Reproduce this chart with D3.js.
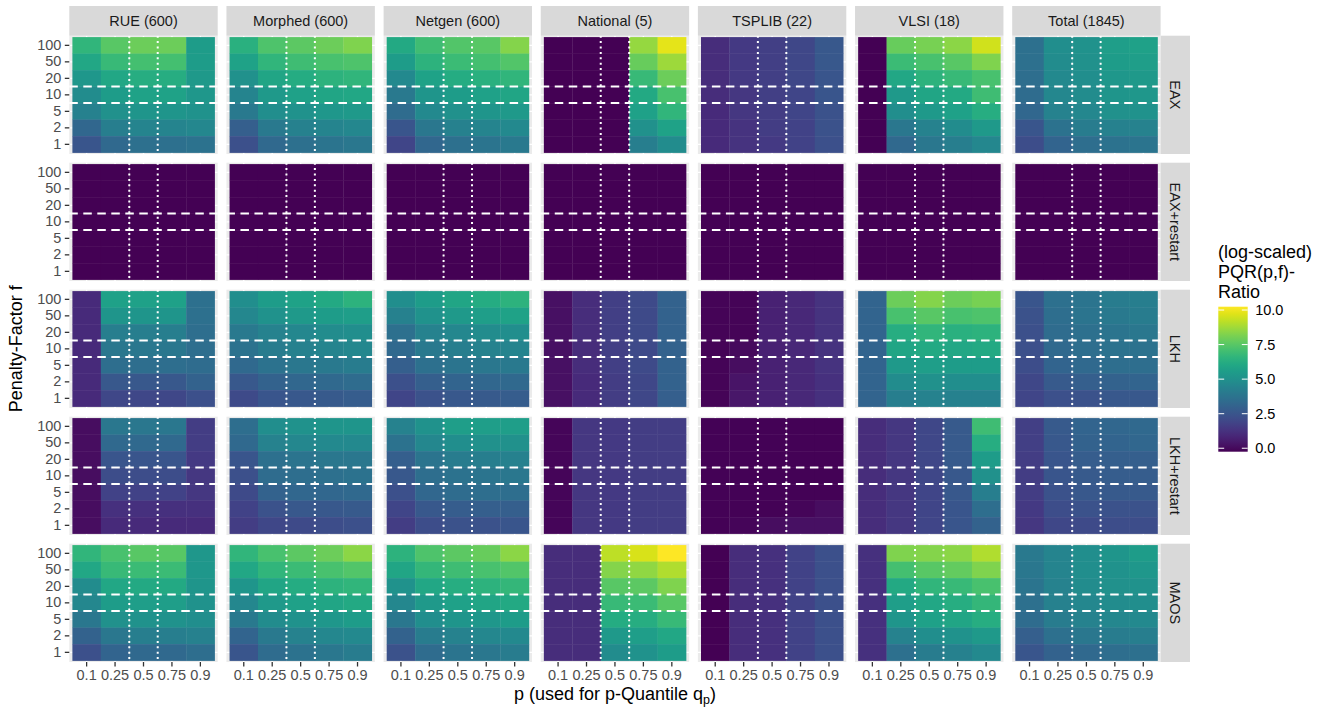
<!DOCTYPE html>
<html><head><meta charset="utf-8">
<script src="https://cdn.jsdelivr.net/npm/d3@7"></script>
<style>
html,body{margin:0;padding:0;background:#fff;}
text{font-family:"Liberation Sans",Arial,Helvetica,sans-serif;}
</style></head>
<body><svg id="chart" width="1325" height="711"></svg>
<script>
// ---------- data ----------
const datasets = ["RUE (600)","Morphed (600)","Netgen (600)","National (5)","TSPLIB (22)","VLSI (18)","Total (1845)"];
const algorithms = ["EAX","EAX+restart","LKH","LKH+restart","MAOS"];
const pLabels = ["0.1","0.25","0.5","0.75","0.9"];
const fLabels = ["100","50","20","10","5","2","1"];   // top to bottom
const legendTicks = [0, 2.5, 5, 7.5, 10];
const legendLimits = [-0.25, 10.24];

// each dataset: rows f = 100,50,20,10,5,2,1 ; columns p = 0.1,0.25,0.5,0.75,0.9
const valuesEAX = [
 [[6.6,7.5,7.9,7.9,5.5],[6.0,6.8,7.1,7.1,5.5],[5.3,6.0,6.3,6.3,5.4],[4.8,5.5,5.8,5.8,5.3],[4.3,5.0,5.2,5.2,5.1],[3.2,4.2,4.5,4.5,4.6],[2.5,3.3,3.6,3.6,3.7]],
 [[6.4,7.3,7.6,7.9,8.2],[5.8,6.6,7.0,7.2,7.3],[5.0,5.9,6.2,6.5,6.6],[4.5,5.4,5.7,5.9,6.0],[4.0,4.9,5.1,5.3,5.4],[2.9,4.0,4.3,4.5,4.6],[2.3,3.3,3.6,3.8,3.9]],
 [[6.1,7.0,7.4,7.5,8.3],[5.5,6.5,6.9,7.1,7.4],[4.7,5.8,6.2,6.4,6.6],[4.0,5.2,5.5,5.7,5.9],[3.4,4.7,5.0,5.2,5.4],[2.5,3.9,4.3,4.5,4.7],[1.9,3.2,3.6,3.8,4.0]],
 [[-0.25,-0.25,-0.25,8.6,9.8],[-0.25,-0.25,-0.25,7.8,8.7],[-0.25,-0.25,-0.25,6.8,7.9],[-0.25,-0.25,-0.25,6.1,7.2],[-0.25,-0.25,-0.25,5.7,6.6],[-0.25,-0.25,-0.25,5.0,5.8],[-0.25,-0.25,-0.25,4.2,4.8]],
 [[1.1,1.5,1.7,2.0,2.6],[1.1,1.5,1.7,2.0,2.6],[1.1,1.5,1.7,2.0,2.5],[1.1,1.4,1.7,1.9,2.5],[1.0,1.4,1.6,1.9,2.4],[1.0,1.3,1.6,1.8,2.4],[1.0,1.3,1.5,1.8,2.3]],
 [[-0.25,7.8,8.1,8.4,9.5],[-0.25,6.9,7.2,7.5,8.2],[-0.25,6.0,6.5,6.8,7.2],[-0.25,5.4,5.9,6.1,7.0],[-0.25,4.9,5.4,5.7,6.3],[-0.25,3.9,4.4,4.8,5.4],[-0.25,3.3,3.9,4.2,4.6]],
 [[3.6,4.9,5.1,5.6,5.7],[3.6,4.8,5.0,5.5,5.6],[3.5,4.7,4.9,5.3,5.4],[3.4,4.6,4.8,5.2,5.3],[3.2,4.4,4.6,5.0,5.1],[2.5,3.7,4.1,4.3,4.4],[2.2,3.1,3.5,3.7,3.8]]
];
const valuesEAXrestart = [
 [[-0.25,-0.25,-0.25,-0.25,-0.25],[-0.25,-0.25,-0.25,-0.25,-0.25],[-0.25,-0.25,-0.25,-0.25,-0.25],[-0.25,-0.25,-0.25,-0.25,-0.25],[-0.25,-0.25,-0.25,-0.25,-0.25],[-0.25,-0.25,-0.25,-0.25,-0.25],[-0.25,-0.25,-0.25,-0.25,-0.25]],
 [[-0.25,-0.25,-0.25,-0.25,-0.25],[-0.25,-0.25,-0.25,-0.25,-0.25],[-0.25,-0.25,-0.25,-0.25,-0.25],[-0.25,-0.25,-0.25,-0.25,-0.25],[-0.25,-0.25,-0.25,-0.25,-0.25],[-0.25,-0.25,-0.25,-0.25,-0.25],[-0.25,-0.25,-0.25,-0.25,-0.25]],
 [[-0.25,-0.25,-0.25,-0.25,-0.25],[-0.25,-0.25,-0.25,-0.25,-0.25],[-0.25,-0.25,-0.25,-0.25,-0.25],[-0.25,-0.25,-0.25,-0.25,-0.25],[-0.25,-0.25,-0.25,-0.25,-0.25],[-0.25,-0.25,-0.25,-0.25,-0.25],[-0.25,-0.25,-0.25,-0.25,-0.25]],
 [[-0.25,-0.25,-0.25,-0.25,-0.25],[-0.25,-0.25,-0.25,-0.25,-0.25],[-0.25,-0.25,-0.25,-0.25,-0.25],[-0.25,-0.25,-0.25,-0.25,-0.25],[-0.25,-0.25,-0.25,-0.25,-0.25],[-0.25,-0.25,-0.25,-0.25,-0.25],[-0.25,-0.25,-0.25,-0.25,-0.25]],
 [[-0.25,-0.25,-0.25,-0.25,-0.25],[-0.25,-0.25,-0.25,-0.25,-0.25],[-0.25,-0.25,-0.25,-0.25,-0.25],[-0.25,-0.25,-0.25,-0.25,-0.25],[-0.25,-0.25,-0.25,-0.25,-0.25],[-0.25,-0.25,-0.25,-0.25,-0.25],[-0.25,-0.25,-0.25,-0.25,-0.25]],
 [[-0.25,-0.25,-0.25,-0.25,-0.25],[-0.25,-0.25,-0.25,-0.25,-0.25],[-0.25,-0.25,-0.25,-0.25,-0.25],[-0.25,-0.25,-0.25,-0.25,-0.25],[-0.25,-0.25,-0.25,-0.25,-0.25],[-0.25,-0.25,-0.25,-0.25,-0.25],[-0.25,-0.25,-0.25,-0.25,-0.25]],
 [[-0.25,-0.25,-0.25,-0.25,-0.25],[-0.25,-0.25,-0.25,-0.25,-0.25],[-0.25,-0.25,-0.25,-0.25,-0.25],[-0.25,-0.25,-0.25,-0.25,-0.25],[-0.25,-0.25,-0.25,-0.25,-0.25],[-0.25,-0.25,-0.25,-0.25,-0.25],[-0.25,-0.25,-0.25,-0.25,-0.25]]
];
const valuesLKH = [
 [[1.0,5.7,5.7,5.7,3.6],[1.0,5.2,5.2,5.2,3.6],[1.0,4.2,4.2,4.2,3.5],[1.0,3.9,3.9,3.9,3.5],[1.0,3.5,3.5,3.5,3.4],[1.0,2.6,2.6,2.6,3.0],[1.0,2.0,2.0,2.0,2.3]],
 [[4.9,5.5,5.8,6.1,6.5],[4.6,5.1,5.4,5.5,5.6],[4.0,4.4,4.6,4.8,4.9],[3.7,4.1,4.3,4.5,4.6],[3.3,3.7,3.9,4.0,4.1],[2.6,3.0,3.2,3.3,3.4],[2.1,2.5,2.6,2.7,2.8]],
 [[4.9,5.5,5.9,6.2,6.5],[4.3,5.1,5.4,5.6,5.8],[3.6,4.4,4.6,4.8,4.9],[3.3,4.0,4.2,4.4,4.5],[2.9,3.6,3.8,3.9,4.0],[2.3,2.9,3.1,3.2,3.3],[1.9,2.4,2.6,2.7,2.8]],
 [[0.2,1.1,1.7,2.1,3.0],[0.2,1.1,1.7,2.1,3.0],[0.2,1.1,1.7,2.1,3.0],[0.2,1.1,1.7,2.1,3.0],[0.2,1.1,1.7,2.1,3.0],[0.2,1.0,1.6,2.0,3.0],[0.2,1.0,1.6,2.0,2.9]],
 [[-0.15,-0.15,0.7,0.9,1.3],[-0.15,-0.15,0.7,0.9,1.3],[-0.15,-0.15,0.7,0.9,1.3],[-0.15,0.0,0.7,0.9,1.3],[-0.15,0.1,0.7,0.9,1.3],[-0.15,0.3,0.7,0.9,1.2],[-0.15,0.4,0.7,0.9,1.2]],
 [[3.1,7.9,8.3,7.9,8.1],[3.1,7.2,7.5,7.2,7.3],[3.1,6.3,6.6,6.4,6.5],[3.1,5.9,6.1,6.0,6.1],[3.1,5.4,5.6,5.5,5.5],[3.1,4.8,5.0,4.9,4.9],[3.1,4.2,4.4,4.3,4.3]],
 [[2.5,3.6,3.8,4.1,4.2],[2.4,3.5,3.8,4.0,4.1],[2.3,3.4,3.6,3.8,3.9],[2.3,3.3,3.5,3.7,3.7],[2.2,3.1,3.3,3.5,3.5],[2.0,2.7,2.9,3.0,3.1],[1.9,2.3,2.4,2.6,2.6]]
];
const valuesLKHrestart = [
 [[0.1,3.9,3.9,3.9,1.6],[0.1,3.3,3.3,3.3,1.6],[0.1,2.5,2.5,2.5,1.5],[0.1,2.2,2.2,2.2,1.4],[0.1,1.8,1.8,1.8,1.4],[0.1,1.2,1.2,1.2,1.2],[0.1,1.0,1.0,1.0,1.0]],
 [[3.5,4.9,5.1,5.2,5.2],[3.3,4.4,4.6,4.7,4.7],[2.5,3.6,3.8,3.9,3.9],[2.3,3.4,3.5,3.6,3.7],[2.1,3.0,3.2,3.2,3.3],[1.8,2.4,2.6,2.6,2.7],[1.6,2.0,2.1,2.2,2.3]],
 [[4.4,5.1,5.6,5.6,5.6],[3.7,4.6,4.9,5.0,5.0],[2.9,3.8,4.1,4.2,4.3],[2.6,3.5,3.7,3.8,3.9],[2.3,3.2,3.4,3.5,3.5],[1.9,2.6,2.8,2.9,2.9],[1.6,2.2,2.4,2.4,2.5]],
 [[-0.1,1.4,1.5,1.6,1.6],[-0.1,1.4,1.5,1.6,1.6],[-0.1,1.4,1.5,1.6,1.6],[-0.1,1.4,1.5,1.6,1.6],[-0.1,1.4,1.5,1.6,1.6],[-0.1,1.4,1.5,1.6,1.6],[-0.1,1.4,1.5,1.6,1.6]],
 [[-0.2,-0.2,-0.2,-0.2,-0.2],[-0.2,-0.2,-0.2,-0.2,-0.2],[-0.2,-0.2,-0.2,-0.2,-0.2],[-0.2,-0.2,-0.2,-0.2,-0.2],[-0.2,-0.2,-0.2,-0.2,-0.2],[-0.2,-0.2,-0.2,-0.1,0.1],[-0.2,-0.1,0.1,0.2,0.2]],
 [[1.1,1.4,2.0,2.7,7.0],[1.1,1.4,2.0,2.7,6.3],[1.1,1.4,2.0,2.7,5.5],[1.1,1.4,2.0,2.6,5.0],[1.1,1.4,1.9,2.6,4.2],[1.1,1.4,1.9,2.5,3.5],[1.1,1.4,1.9,2.5,3.0]],
 [[1.7,2.7,3.1,3.2,3.3],[1.7,2.6,3.0,3.1,3.2],[1.6,2.5,2.8,2.9,2.9],[1.6,2.5,2.7,2.8,2.8],[1.6,2.4,2.6,2.7,2.7],[1.5,2.2,2.4,2.4,2.4],[1.4,2.0,2.1,2.2,2.2]]
];
const valuesMAOS = [
 [[6.6,7.2,7.5,7.5,5.3],[6.0,6.8,6.9,6.9,5.3],[4.8,6.0,6.1,6.1,5.2],[4.6,5.5,5.6,5.6,5.1],[3.9,5.0,5.1,5.1,4.9],[3.0,3.9,4.2,4.2,4.3],[2.3,3.1,3.3,3.3,3.5]],
 [[6.6,7.2,7.6,7.9,8.4],[6.0,6.6,6.9,7.2,7.4],[5.2,5.9,6.2,6.5,6.6],[4.6,5.4,5.7,5.9,6.1],[4.0,4.8,5.1,5.3,5.5],[3.1,4.0,4.4,4.6,4.7],[2.5,3.4,3.7,3.9,4.1]],
 [[6.5,7.3,7.6,7.8,8.4],[5.9,6.7,7.0,7.2,7.4],[5.1,6.0,6.3,6.5,6.7],[4.6,5.4,5.7,5.9,6.1],[3.9,4.9,5.2,5.3,5.5],[3.0,4.1,4.4,4.6,4.7],[2.4,3.4,3.8,3.9,4.1]],
 [[1.1,1.1,9.2,9.6,10.24],[1.1,1.1,8.3,8.5,9.0],[1.1,1.1,7.5,7.6,8.2],[1.1,1.1,6.8,6.9,7.5],[1.1,1.1,6.2,6.3,6.8],[1.1,1.1,5.4,5.6,6.0],[1.1,1.1,4.8,5.1,5.5]],
 [[-0.25,1.1,1.2,1.8,2.3],[-0.25,1.1,1.2,1.8,2.3],[-0.25,1.1,1.2,1.8,2.3],[-0.25,1.1,1.2,1.8,2.3],[-0.25,1.1,1.2,1.8,2.3],[-0.25,1.1,1.2,1.8,2.3],[-0.25,1.1,1.2,1.8,2.3]],
 [[1.2,8.2,8.3,8.4,9.0],[1.2,7.1,7.5,7.7,8.2],[1.2,6.1,6.6,6.8,7.2],[1.2,5.6,6.0,6.3,6.7],[1.2,5.2,5.7,5.9,6.3],[1.2,4.4,4.9,5.1,5.4],[1.2,3.6,4.1,4.3,4.7]],
 [[4.0,4.5,4.9,5.2,5.5],[3.9,4.5,4.9,5.1,5.3],[3.8,4.4,4.8,5.0,5.1],[3.6,4.3,4.6,4.8,4.9],[3.4,4.1,4.4,4.6,4.7],[2.9,3.6,3.9,4.1,4.2],[2.5,3.0,3.3,3.5,3.6]]
];
const valuesByAlgorithm = [valuesEAX, valuesEAXrestart, valuesLKH, valuesLKHrestart, valuesMAOS];

// ---------- layout ----------
const svg = d3.select("#chart");
const panelX0 = 69.3, stepX = 157.15, panelW = 148.4;
const panelY0 = 35.7, stepY = 127, panelH = 118.3;
const insetX = 3.1, insetY = 1.4;
const stripTop = 6, stripRightW = 29.4;
const grey30 = "#4d4d4d", grey20 = "#333333";

const color = d3.scaleSequential(d3.interpolateViridis).domain(legendLimits);

const xBand = d3.scaleBand().domain(pLabels).range([insetX, panelW - insetX]);
const yBand = d3.scaleBand().domain(fLabels).range([insetY, panelH - insetY]);

algorithms.forEach((alg, r) => {
  datasets.forEach((ds, c) => {
    const g = svg.append("g").attr("transform", `translate(${panelX0 + c*stepX},${panelY0 + r*stepY})`);
    g.append("rect").attr("width", panelW).attr("height", panelH).attr("fill", "#ebebeb");
    // grid
    g.selectAll(".gx").data(pLabels).join("line")
      .attr("x1", d => xBand(d) + xBand.bandwidth()/2).attr("x2", d => xBand(d) + xBand.bandwidth()/2)
      .attr("y1", 0).attr("y2", panelH).attr("stroke", "#fff").attr("stroke-width", 1.4);
    g.selectAll(".gy").data(fLabels).join("line")
      .attr("y1", d => yBand(d) + yBand.bandwidth()/2).attr("y2", d => yBand(d) + yBand.bandwidth()/2)
      .attr("x1", 0).attr("x2", panelW).attr("stroke", "#fff").attr("stroke-width", 1.4);
    // tiles
    const vals = valuesByAlgorithm[r][c];
    const cells = [];
    fLabels.forEach((f, i) => pLabels.forEach((p, j) => cells.push({f, p, v: vals[i][j]})));
    g.selectAll(".tile").data(cells).join("rect")
      .attr("x", d => xBand(d.p)).attr("y", d => yBand(d.f))
      .attr("width", xBand.bandwidth() + 0.3).attr("height", yBand.bandwidth() + 0.3)
      .attr("fill", d => color(d.v));
    // reference lines
    const vx = [xBand("0.5"), xBand("0.5") + xBand.bandwidth()];
    g.selectAll(".vl").data(vx).join("line")
      .attr("x1", d => d).attr("x2", d => d).attr("y1", 0).attr("y2", panelH)
      .attr("stroke", "#fff").attr("stroke-width", 2).attr("stroke-dasharray", "2,3.4");
    const hy = [yBand("10"), yBand("10") + yBand.bandwidth()];
    g.selectAll(".hl").data(hy).join("line")
      .attr("y1", d => d).attr("y2", d => d).attr("x1", 0).attr("x2", panelW)
      .attr("stroke", "#fff").attr("stroke-width", 2).attr("stroke-dasharray", "8.5,5.5");

    // axes
    if (c === 0) {
      const ax = g.append("g").call(d3.axisLeft(yBand).tickSize(4.5).tickPadding(3.4));
      ax.select(".domain").remove();
      ax.selectAll("line").attr("stroke", grey20).attr("stroke-width", 1.3);
      ax.selectAll("text").attr("fill", grey30).style("font-size", "14.5px");
    }
    if (r === algorithms.length - 1) {
      const ax = g.append("g").attr("transform", `translate(0,${panelH})`)
        .call(d3.axisBottom(xBand).tickSize(4.5).tickPadding(3.4));
      ax.select(".domain").remove();
      ax.selectAll("line").attr("stroke", grey20).attr("stroke-width", 1.3);
      ax.selectAll("text").attr("fill", grey30).style("font-size", "14.5px");
    }
    // top strip
    if (r === 0) {
      const sh = panelY0 - stripTop;
      g.append("rect").attr("y", -sh).attr("width", panelW).attr("height", sh).attr("fill", "#d9d9d9");
      g.append("text").attr("x", panelW/2).attr("y", -sh/2).attr("dy", "0.36em")
        .attr("text-anchor", "middle").attr("fill", "#1a1a1a").style("font-size", "14.5px").text(ds);
    }
    // right strip
    if (c === datasets.length - 1) {
      g.append("rect").attr("x", panelW).attr("width", stripRightW).attr("height", panelH).attr("fill", "#d9d9d9");
      g.append("text").attr("transform", `translate(${panelW + stripRightW/2},${panelH/2}) rotate(90)`)
        .attr("dy", "0.36em").attr("text-anchor", "middle").attr("fill", "#1a1a1a")
        .style("font-size", "14.5px").text(alg);
    }
  });
});

// axis titles
const plotCenterX = panelX0 + ((datasets.length - 1) * stepX + panelW) / 2;
const plotCenterY = panelY0 + ((algorithms.length - 1) * stepY + panelH) / 2;
svg.append("text").attr("transform", `translate(21.5,${plotCenterY}) rotate(-90)`)
  .attr("text-anchor", "middle").attr("fill", "#000").style("font-size", "18px").text("Penalty-Factor f");
const xt = svg.append("text").attr("x", plotCenterX).attr("y", 700)
  .attr("text-anchor", "middle").attr("fill", "#000").style("font-size", "18px");
xt.append("tspan").text("p (used for p-Quantile q");
xt.append("tspan").attr("dy", 4).style("font-size", "12.5px").text("p");
xt.append("tspan").attr("dy", -4).text(")");

// legend
const legX = 1218.3, legTop = 306.7, legW = 29.4, legH = 145;
const legTitle = ["(log-scaled)", "PQR(p,f)-", "Ratio"];
svg.append("g").selectAll("text").data(legTitle).join("text")
  .attr("x", 1218).attr("y", (d, i) => 258 + i*20)
  .attr("fill", "#000").style("font-size", "18px").text(d => d);

const defs = svg.append("defs");
const grad = defs.append("linearGradient").attr("id", "vgrad")
  .attr("x1", 0).attr("y1", 1).attr("x2", 0).attr("y2", 0);
d3.range(0, 1.0001, 0.05).forEach(t => {
  grad.append("stop").attr("offset", t).attr("stop-color", d3.interpolateViridis(t));
});
svg.append("rect").attr("x", legX).attr("y", legTop).attr("width", legW).attr("height", legH)
  .attr("fill", "url(#vgrad)");
const legScale = d3.scaleLinear().domain(legendLimits).range([legTop + legH, legTop]);
const lt = svg.append("g");
legendTicks.forEach(v => {
  const y = legScale(v);
  lt.append("line").attr("x1", legX).attr("x2", legX + legW/5).attr("y1", y).attr("y2", y)
    .attr("stroke", "#fff").attr("stroke-width", 1);
  lt.append("line").attr("x1", legX + legW*4/5).attr("x2", legX + legW).attr("y1", y).attr("y2", y)
    .attr("stroke", "#fff").attr("stroke-width", 1);
  lt.append("text").attr("x", legX + legW + 7.5).attr("y", y).attr("dy", "0.36em")
    .attr("fill", "#000").style("font-size", "14.5px").text(d3.format(".1f")(v));
});
</script></body></html>
